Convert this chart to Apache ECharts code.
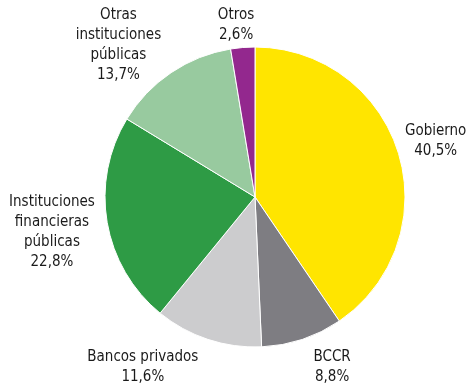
<!DOCTYPE html>
<html>
<head>
<meta charset="utf-8">
<script src="https://cdn.jsdelivr.net/npm/echarts@6/dist/echarts.min.js"></script>
<style>
  html, body { margin: 0; padding: 0; background: #ffffff; }
  #chart { width: 474px; height: 390px; }
</style>
</head>
<body>
<div id="chart"></div>
<script>
// Slice names (clockwise from 12 o'clock) and their shares in percent
const categories = [
  'Gobierno',
  'BCCR',
  'Bancos privados',
  'Instituciones\nfinancieras\npúblicas',
  'Otras\ninstituciones\npúblicas',
  'Otros'
];
const shares = [40.5, 8.8, 11.6, 22.8, 13.7, 2.6];

const sliceColors = ['#FFE500', '#7E7D82', '#CCCCCE', '#2E9B45', '#98CA9F', '#93288E'];

// Label placement: distance of each label centre from the pie centre (px)
// and an angular nudge (degrees) away from the slice bisector
const labelDistance = [189, 187, 204, 206, 204, 173];
const labelNudge = [0, -6, 15, 0, -8, -1.6];

const CX = 255, CY = 197, R = 150;

const total = shares.reduce((a, b) => a + b, 0);
const midAngles = [];
let acc = 0;
shares.forEach(v => {
  midAngles.push((acc + v / 2) / total * 360);
  acc += v;
});

function fmt(v) {
  return v.toFixed(1).replace('.', ',') + '%';
}

const chart = echarts.init(document.getElementById('chart'), null, { renderer: 'canvas' });

chart.setOption({
  animation: false,
  backgroundColor: '#ffffff',
  series: [{
    type: 'pie',
    center: [CX, CY],
    radius: [0, R],
    startAngle: 90,
    clockwise: true,
    avoidLabelOverlap: false,
    itemStyle: { borderColor: '#ffffff', borderWidth: 1 },
    label: {
      show: true,
      position: 'outside',
      formatter: p => p.name + '\n' + fmt(p.value),
      fontFamily: "'Liberation Sans Narrow', 'Arial Narrow', 'DejaVu Sans Condensed', sans-serif",
      fontSize: 15,
      lineHeight: 20,
      color: '#1a1a1a',
      align: 'center'
    },
    labelLine: { show: false },
    labelLayout: function (params) {
      const i = params.dataIndex;
      const a = (midAngles[i] + labelNudge[i]) * Math.PI / 180;
      return {
        x: CX + labelDistance[i] * Math.sin(a),
        y: CY - labelDistance[i] * Math.cos(a),
        align: 'center',
        verticalAlign: 'middle'
      };
    },
    data: categories.map((name, i) => ({
      name: name,
      value: shares[i],
      itemStyle: { color: sliceColors[i] }
    }))
  }]
});
</script>
</body>
</html>
